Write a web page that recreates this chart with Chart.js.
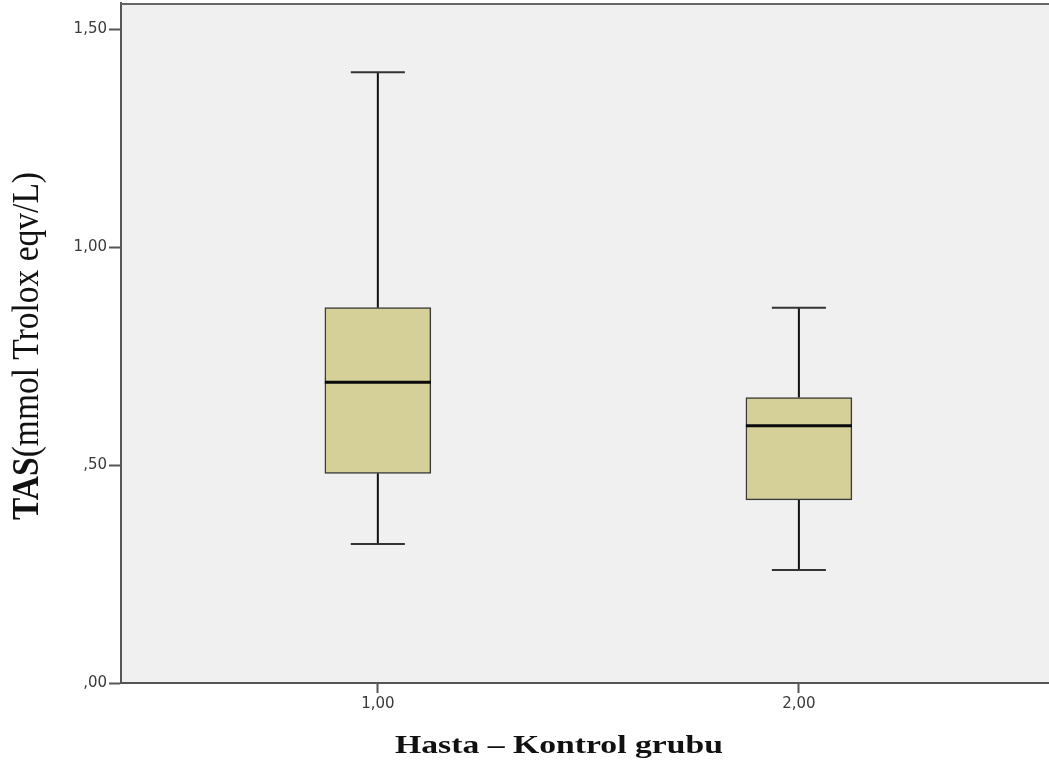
<!DOCTYPE html>
<html>
<head>
<meta charset="utf-8">
<script src="https://cdn.jsdelivr.net/npm/chart.js@4/dist/chart.umd.min.js"></script>
<style>
  html, body { margin: 0; padding: 0; background: #fff; }
  #wrap { width: 1049px; height: 764px; }
</style>
</head>
<body>
<div id="wrap"><canvas id="c" width="1049" height="764"></canvas></div>
<script>
// Group codes and their axis labels
const groups = [1, 2];
const groupLabels = ['1,00', '2,00'];

// Five-number summaries per group
const whiskerLow  = [0.319, 0.259];
const q1          = [0.481, 0.420];
const median      = [0.690, 0.590];
const q3          = [0.861, 0.655];
const whiskerHigh = [1.401, 0.861];

// Value axis ticks
const yTickValues = [0, 0.5, 1, 1.5];
const yTickLabels = [',00', ',50', '1,00', '1,50'];

// Axis titles
const xTitle = 'Hasta – Kontrol grubu';
const yTitleBold = 'TAS';
const yTitleRest = '(mmol Trolox eqv/L)';

const BOX_FILL = '#d4d098';
const BOX_EDGE = '#3a3a3a';
const AXIS = '#555555';
const TICK_FONT = { family: '"DejaVu Sans", Verdana, sans-serif', size: 15 };

const boxParts = {
  id: 'boxParts',
  beforeDraw(chart) {
    const { ctx, chartArea: a } = chart;
    ctx.save();
    ctx.fillStyle = '#f0f0f0';
    ctx.fillRect(a.left, a.top, a.right - a.left, a.bottom - a.top);
    ctx.restore();
  },
  beforeDatasetsDraw(chart) {
    // whisker stems and caps
    const { ctx } = chart;
    const xs = chart.scales.x, ys = chart.scales.y;
    const meta = chart.getDatasetMeta(0);
    ctx.save();
    ctx.lineWidth = 2;
    groups.forEach((g, i) => {
      const cx = xs.getPixelForValue(g);
      const half = meta.data[i].width * 0.255;
      const yLo = ys.getPixelForValue(whiskerLow[i]);
      const yQ1 = ys.getPixelForValue(q1[i]);
      const yQ3 = ys.getPixelForValue(q3[i]);
      const yHi = ys.getPixelForValue(whiskerHigh[i]);
      ctx.strokeStyle = '#111';
      ctx.beginPath();
      ctx.moveTo(cx, yQ1); ctx.lineTo(cx, yLo);
      ctx.moveTo(cx, yQ3); ctx.lineTo(cx, yHi);
      ctx.stroke();
      ctx.strokeStyle = '#333';
      ctx.beginPath();
      ctx.moveTo(cx - half, yLo); ctx.lineTo(cx + half, yLo);
      ctx.moveTo(cx - half, yHi); ctx.lineTo(cx + half, yHi);
      ctx.stroke();
    });
    ctx.restore();
  },
  afterDatasetsDraw(chart) {
    // median lines
    const { ctx } = chart;
    const xs = chart.scales.x, ys = chart.scales.y;
    const meta = chart.getDatasetMeta(0);
    ctx.save();
    ctx.strokeStyle = '#0a0a0a';
    ctx.lineWidth = 3;
    groups.forEach((g, i) => {
      const cx = xs.getPixelForValue(g);
      const half = meta.data[i].width / 2;
      const ym = ys.getPixelForValue(median[i]);
      ctx.beginPath();
      ctx.moveTo(cx - half, ym); ctx.lineTo(cx + half, ym);
      ctx.stroke();
    });
    ctx.restore();
  },
  afterDraw(chart) {
    const { ctx, chartArea: a } = chart;
    ctx.save();
    // top frame edge
    ctx.strokeStyle = '#666';
    ctx.lineWidth = 2;
    ctx.beginPath();
    ctx.moveTo(a.left, a.top + 1); ctx.lineTo(a.right, a.top + 1);
    ctx.stroke();
    ctx.restore();

    // x axis title, bold serif, widened glyphs
    ctx.save();
    ctx.fillStyle = '#111';
    ctx.font = 'bold 25px "Liberation Serif", "Times New Roman", serif';
    ctx.textBaseline = 'alphabetic';
    ctx.textAlign = 'center';
    const baseW = ctx.measureText(xTitle).width;
    const sx = 328 / baseW;
    ctx.translate(559, 753);
    ctx.scale(sx, 1);
    ctx.fillText(xTitle, 0, 0);
    ctx.restore();

    // y axis title, rotated; bold prefix then regular text
    ctx.save();
    ctx.fillStyle = '#111';
    ctx.textBaseline = 'alphabetic';
    ctx.textAlign = 'left';
    const fb = 'bold 37px "Liberation Serif", "Times New Roman", serif';
    const fr = '37px "Liberation Serif", "Times New Roman", serif';
    ctx.font = fb; const wb = ctx.measureText(yTitleBold).width;
    ctx.font = fr; const wr = ctx.measureText(yTitleRest).width;
    const total = wb + wr;
    const f = 348 / total;
    ctx.translate(38, 346);
    ctx.rotate(-Math.PI / 2);
    ctx.scale(f, 1);
    ctx.font = fb;
    ctx.fillText(yTitleBold, -total / 2, 0);
    ctx.font = fr;
    ctx.fillText(yTitleRest, -total / 2 + wb, 0);
    ctx.restore();
  }
};

const ctx = document.getElementById('c').getContext('2d');
new Chart(ctx, {
  type: 'bar',
  data: {
    datasets: [{
      data: groups.map((g, i) => ({ x: g, y: [q1[i], q3[i]] })),
      backgroundColor: BOX_FILL,
      borderColor: BOX_EDGE,
      borderWidth: 1.5,
      borderSkipped: false,
      barThickness: 106
    }]
  },
  options: {
    responsive: false,
    animation: false,
    layout: { padding: { top: 3, right: 0, left: 0, bottom: 0 } },
    plugins: { legend: { display: false }, tooltip: { enabled: false } },
    scales: {
      x: {
        type: 'linear',
        offset: false,
        min: 0.39,
        max: 2.594,
        afterBuildTicks: s => { s.ticks = groups.map(v => ({ value: v })); },
        afterFit: s => { s.height = 81; s.paddingLeft = 0; s.paddingRight = 0; },
        grid: { offset: false, drawOnChartArea: false, drawTicks: true, tickLength: 10, tickColor: AXIS, tickWidth: 2 },
        border: { display: true, color: AXIS, width: 2 },
        ticks: {
          autoSkip: false,
          maxRotation: 0,
          padding: 2,
          color: '#3a3a3a',
          font: TICK_FONT,
          callback: (v, i) => groupLabels[i]
        }
      },
      y: {
        min: 0,
        max: 1.56,
        afterBuildTicks: s => { s.ticks = yTickValues.map(v => ({ value: v })); },
        afterFit: s => { s.width = 121; s.paddingTop = 0; s.paddingBottom = 0; },
        grid: { drawOnChartArea: false, drawTicks: true, tickLength: 12, tickColor: AXIS, tickWidth: 2 },
        border: { display: true, color: AXIS, width: 2 },
        ticks: {
          autoSkip: false,
          padding: 2,
          color: '#3a3a3a',
          font: TICK_FONT,
          callback: (v, i) => yTickLabels[i]
        }
      }
    }
  },
  plugins: [boxParts]
});
</script>
</body>
</html>
